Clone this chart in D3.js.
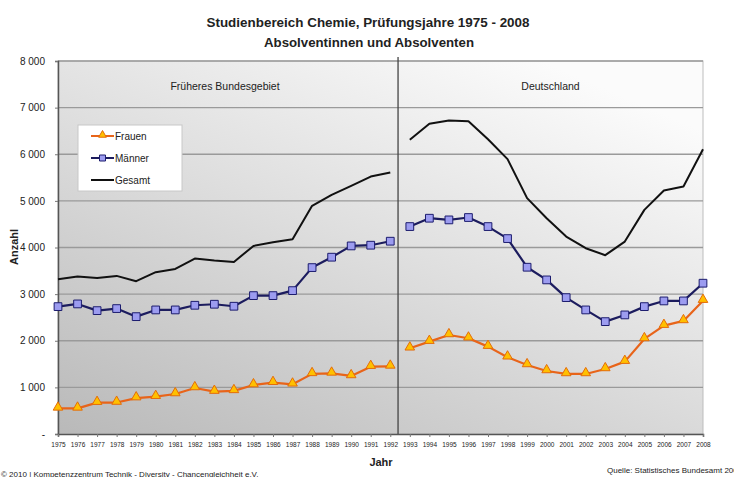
<!DOCTYPE html>
<html>
<head>
<meta charset="utf-8">
<script src="https://cdn.jsdelivr.net/npm/d3@7"></script>
<style>
body { margin: 0; background: #fff; }
text { font-family: "Liberation Sans", Arial, sans-serif; }
</style>
</head>
<body>
<svg id="chart"></svg>
<script>
// size of the svg
var width = 734;
var height = 477;

// years of the two periods
var yearsWest = d3.range(1975, 1993);
var yearsEast = d3.range(1993, 2009);

// Früheres Bundesgebiet 1975 - 1992
var frauenWest = [550, 550, 672, 675, 770, 800, 858, 987, 910, 925, 1050, 1100, 1066, 1290, 1300, 1245, 1444, 1450];
var maennerWest = [2732, 2790, 2646, 2690, 2517, 2661, 2661, 2761, 2783, 2740, 2968, 2968, 3075, 3569, 3792, 4034, 4049, 4135];
var gesamtWest = [3320, 3376, 3348, 3391, 3277, 3470, 3541, 3762, 3719, 3691, 4034, 4114, 4178, 4893, 5129, 5322, 5522, 5607];

// Deutschland 1993 - 2008
var frauenEast = [1839, 1981, 2124, 2053, 1874, 1646, 1481, 1352, 1288, 1288, 1395, 1552, 2039, 2324, 2425, 2860];
var maennerEast = [4449, 4628, 4592, 4643, 4449, 4191, 3577, 3305, 2925, 2661, 2410, 2554, 2732, 2854, 2854, 3234];
var gesamtEast = [6309, 6652, 6723, 6709, 6323, 5895, 5058, 4628, 4235, 3985, 3835, 4127, 4807, 5221, 5307, 6109];

var yTicks = [0, 1000, 2000, 3000, 4000, 5000, 6000, 7000, 8000];

var svg = d3.select("#chart").attr("width", width).attr("height", height);

var plotLeft = 58, plotRight = 703, plotTop = 61, plotBottom = 434;

// scales
var xScale = d3.scaleLinear().domain([1975, 2008]).range([plotLeft, plotRight]);
var yScale = d3.scaleLinear().domain([0, 8000]).range([plotBottom, plotTop]);

// background gradient
var defs = svg.append("defs");
var grad = defs.append("linearGradient").attr("id", "bg")
    .attr("x1", "0").attr("y1", "1").attr("x2", "0.75").attr("y2", "0");
grad.append("stop").attr("offset", "0%").attr("stop-color", "#b9b9b9");
grad.append("stop").attr("offset", "55%").attr("stop-color", "#dedede");
grad.append("stop").attr("offset", "100%").attr("stop-color", "#fbfbfb");

svg.append("rect").attr("x", plotLeft).attr("y", plotTop)
    .attr("width", plotRight - plotLeft).attr("height", plotBottom - plotTop)
    .attr("fill", "url(#bg)").attr("stroke", "#bdbdbd");

// grid lines
svg.append("g").selectAll("line").data(yTicks.slice(1)).join("line")
    .attr("x1", plotLeft).attr("x2", plotRight)
    .attr("y1", d => yScale(d)).attr("y2", d => yScale(d))
    .attr("stroke", "#9a9a9a").attr("stroke-width", 1.3);

// divider between the two periods
var divX = (xScale(1992) + xScale(1993)) / 2 - 2;
svg.append("line").attr("x1", divX).attr("x2", divX)
    .attr("y1", plotTop - 4).attr("y2", plotBottom)
    .attr("stroke", "#444").attr("stroke-width", 1.3);

// y axis
var y_Axis = d3.axisLeft(yScale).tickValues(yTicks).tickSize(3)
    .tickFormat(d => d === 0 ? "-" : d3.format(",")(d).replace(",", " "));
var gy = svg.append("g").attr("transform", "translate(" + plotLeft + ",0)").call(y_Axis);
gy.select(".domain").attr("stroke", "#555").attr("stroke-width", 1.5);
gy.selectAll(".tick line").attr("stroke", "#777");
gy.selectAll("text").attr("font-size", 10).attr("fill", "#222").attr("x", -13);

// x axis
var x_Axis = d3.axisBottom(xScale).tickValues(d3.range(1975, 2009)).tickSize(3)
    .tickFormat(d3.format("d"));
var gx = svg.append("g").attr("transform", "translate(0," + plotBottom + ")").call(x_Axis);
gx.select(".domain").attr("stroke", "#555").attr("stroke-width", 1.5);
gx.selectAll(".tick line").attr("stroke", "#777");
gx.selectAll("text").attr("font-size", 6.5).attr("fill", "#222").attr("dy", "1.1em");

// lines
var line = d3.line().x(d => xScale(d[0])).y(d => yScale(d[1]));

function drawSeries(years, values, color, widthPx) {
    var pts = years.map((y, i) => [y, values[i]]);
    svg.append("path").datum(pts).attr("d", line)
        .attr("fill", "none").attr("stroke", color).attr("stroke-width", widthPx)
        .attr("stroke-linejoin", "round");
    return pts;
}

var tri = d3.symbol().type(d3.symbolTriangle).size(40);
var sq = d3.symbol().type(d3.symbolSquare).size(60);

function drawTriangles(pts) {
    svg.append("g").selectAll("path").data(pts).join("path")
        .attr("d", tri)
        .attr("transform", d => "translate(" + xScale(d[0]) + "," + (yScale(d[1]) - 1) + ")")
        .attr("fill", "#ffc000").attr("stroke", "#e46c0a").attr("stroke-width", 1);
}
function drawSquares(pts) {
    svg.append("g").selectAll("path").data(pts).join("path")
        .attr("d", sq)
        .attr("transform", d => "translate(" + xScale(d[0]) + "," + yScale(d[1]) + ")")
        .attr("fill", "#9c9cf0").attr("stroke", "#1c1c6e").attr("stroke-width", 1);
}

drawSeries(yearsWest, gesamtWest, "#111", 2);
drawSeries(yearsEast, gesamtEast, "#111", 2);
drawSquares(drawSeries(yearsWest, maennerWest, "#1c1c5e", 2.2));
drawSquares(drawSeries(yearsEast, maennerEast, "#1c1c5e", 2.2));
drawTriangles(drawSeries(yearsWest, frauenWest, "#e8641a", 2.2));
drawTriangles(drawSeries(yearsEast, frauenEast, "#e8641a", 2.2));

// panel labels
svg.append("text").attr("x", (plotLeft + divX) / 2 - 3).attr("y", 90).attr("text-anchor", "middle")
    .attr("font-size", 10.5).attr("fill", "#222").text("Früheres Bundesgebiet");
svg.append("text").attr("x", (divX + plotRight) / 2).attr("y", 90).attr("text-anchor", "middle")
    .attr("font-size", 10.5).attr("fill", "#222").text("Deutschland");

// legend
var lg = svg.append("g").attr("transform", "translate(78,125)");
lg.append("rect").attr("width", 104).attr("height", 66)
    .attr("fill", "#fff").attr("stroke", "#c8c8c8");
var legendItems = [["Frauen", "#e8641a", "tri"], ["Männer", "#1c1c5e", "sq"], ["Gesamt", "#111", "none"]];
legendItems.forEach((it, i) => {
    var yy = 11 + i * 22;
    lg.append("line").attr("x1", 13).attr("x2", 36).attr("y1", yy).attr("y2", yy)
        .attr("stroke", it[1]).attr("stroke-width", 2);
    if (it[2] === "tri") {
        lg.append("path").attr("d", d3.symbol().type(d3.symbolTriangle).size(26))
            .attr("transform", "translate(24.5," + (yy - 1) + ")")
            .attr("fill", "#ffc000").attr("stroke", "#e46c0a");
    } else if (it[2] === "sq") {
        lg.append("path").attr("d", d3.symbol().type(d3.symbolSquare).size(36))
            .attr("transform", "translate(24.5," + yy + ")")
            .attr("fill", "#9c9cf0").attr("stroke", "#1c1c6e");
    }
    lg.append("text").attr("x", 37).attr("y", yy + 3.5).attr("font-size", 10)
        .attr("fill", "#222").text(it[0]);
});

// titles
svg.append("text").attr("x", 368).attr("y", 27).attr("text-anchor", "middle")
    .attr("font-size", 13.5).attr("font-weight", "bold").attr("fill", "#222")
    .attr("textLength", 323).attr("lengthAdjust", "spacingAndGlyphs")
    .text("Studienbereich Chemie, Prüfungsjahre 1975 - 2008");
svg.append("text").attr("x", 369).attr("y", 47).attr("text-anchor", "middle")
    .attr("font-size", 13.5).attr("font-weight", "bold").attr("fill", "#222")
    .attr("textLength", 210).attr("lengthAdjust", "spacingAndGlyphs")
    .text("Absolventinnen und Absolventen");

// axis titles
svg.append("text").attr("transform", "translate(18,247) rotate(-90)")
    .attr("text-anchor", "middle").attr("font-size", 11).attr("font-weight", "bold")
    .attr("fill", "#222").text("Anzahl");
svg.append("text").attr("x", 381).attr("y", 466).attr("text-anchor", "middle")
    .attr("font-size", 11).attr("font-weight", "bold").attr("fill", "#222").text("Jahr");

// footer
svg.append("text").attr("x", 1).attr("y", 477).attr("font-size", 8)
    .attr("fill", "#222").text("© 2010 | Kompetenzzentrum Technik - Diversity - Chancengleichheit e.V.");
svg.append("text").attr("x", 607).attr("y", 473).attr("font-size", 8)
    .attr("fill", "#222").text("Quelle: Statistisches Bundesamt 2009");
</script>
</body>
</html>
